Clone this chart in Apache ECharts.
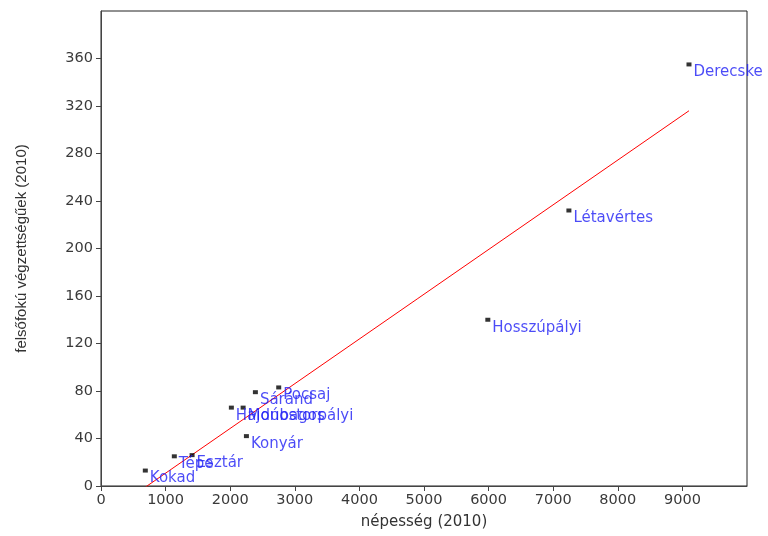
<!DOCTYPE html>
<html>
<head>
<meta charset="utf-8">
<script src="https://cdn.jsdelivr.net/npm/echarts@6/dist/echarts.min.js"></script>
<style>
html,body{margin:0;padding:0;background:#ffffff;}
#chart{width:768px;height:536px;}
</style>
</head>
<body>
<div id="chart"></div>
<script>
// Settlements (Derecske-Létavértes micro-region)
const settlements = ['Derecske','Létavértes','Hosszúpályi','Pocsaj','Sáránd','Hajdúbagos','Monostorpályi','Konyár','Tépe','Esztár','Kokad'];
// népesség (2010)
const population = [9102, 7243, 5988, 2751, 2390, 2018, 2200, 2251, 1135, 1410, 686];
// felsőfokú végzettségűek (2010)
const graduates = [355, 232, 140, 83, 79, 66, 66, 42, 25, 26, 13];
// fitted trend line end points
const trendX = [686, 9102];
const trendY = [-1, 316];
// axis ranges
const xRange = [0, 10000, 1000];
const yRange = [0, 400, 40];

const chart = echarts.init(document.getElementById('chart'), null, {renderer:'canvas'});

const pointData = settlements.map((n, i) => ({name: n, value: [population[i], graduates[i]]}));
const lineData = trendX.map((x, i) => [x, trendY[i]]);

const axisFont = 'DejaVu Sans';
const plain = v => String(v);

chart.setOption({
  animation: false,
  backgroundColor: '#ffffff',
  grid: {
    left: 101, right: 21, top: 11, bottom: 50,
    show: true, borderColor: '#222222', borderWidth: 1, backgroundColor: 'transparent'
  },
  xAxis: {
    type: 'value',
    min: xRange[0], max: xRange[1], interval: xRange[2],
    name: 'népesség (2010)',
    nameLocation: 'middle',
    nameGap: 29,
    nameTextStyle: {color: '#333333', fontFamily: axisFont, fontSize: 15},
    axisLine: {show: true, onZero: false, lineStyle: {color: '#444444', width: 1}},
    axisTick: {show: true, length: 5, lineStyle: {color: '#444444'}},
    axisLabel: {color: '#3a3a3a', fontFamily: axisFont, fontSize: 14.5, margin: 7, showMaxLabel: false, formatter: plain},
    splitLine: {show: false}
  },
  yAxis: {
    type: 'value',
    min: yRange[0], max: yRange[1], interval: yRange[2],
    name: 'felsőfokú végzettségűek (2010)',
    nameLocation: 'middle',
    nameRotate: 90,
    nameGap: 72,
    nameTextStyle: {color: '#333333', fontFamily: 'Liberation Sans', fontSize: 15},
    axisLine: {show: true, onZero: false, lineStyle: {color: '#444444', width: 1}},
    axisTick: {show: true, length: 5, lineStyle: {color: '#444444'}},
    axisLabel: {color: '#3a3a3a', fontFamily: axisFont, fontSize: 14.5, margin: 8, showMaxLabel: false, formatter: plain},
    splitLine: {show: false}
  },
  series: [
    {
      type: 'line',
      data: lineData,
      symbol: 'none',
      lineStyle: {color: '#ff0000', width: 1},
      silent: true,
      z: 1
    },
    {
      type: 'scatter',
      data: pointData,
      symbol: 'rect',
      symbolSize: [5, 4],
      itemStyle: {color: '#000000'},
      label: {
        show: true,
        formatter: '{b}',
        position: [7, 10],
        align: 'left',
        verticalAlign: 'middle',
        color: '#1e1ef5',
        fontFamily: axisFont,
        fontSize: 15
      },
      labelLayout: {hideOverlap: false},
      z: 2
    }
  ]
});
</script>
</body>
</html>
